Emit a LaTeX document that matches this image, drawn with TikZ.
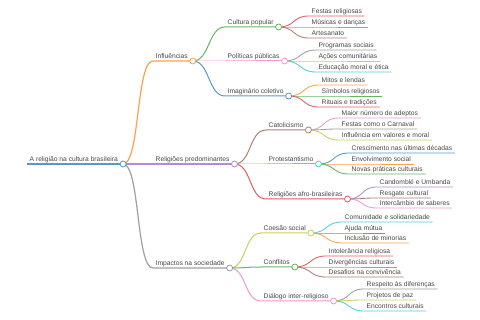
\documentclass[tikz,border=0pt]{standalone}
\usepackage{fontspec}
\setmainfont{Liberation Sans}
\definecolor{mblue}{RGB}{31,119,180}
\definecolor{morange}{RGB}{255,127,14}
\definecolor{mgreen}{RGB}{44,160,44}
\definecolor{mred}{RGB}{214,39,40}
\definecolor{mpurple}{RGB}{148,103,189}
\definecolor{mbrown}{RGB}{140,86,75}
\definecolor{mpink}{RGB}{227,119,194}
\definecolor{mgray}{RGB}{127,127,127}
\definecolor{molive}{RGB}{188,189,34}
\definecolor{mcyan}{RGB}{23,190,207}
\usetikzlibrary{positioning,backgrounds}

\begin{document}
\begin{tikzpicture}[x=1pt,y=-1pt,
  lbl/.style={anchor=south west, inner xsep=2.5pt, inner ysep=0.6pt,
    text height=5pt, text depth=1.6pt,
    font=\fontsize{6.7}{8}\selectfont, text=black!72},
  dot/.style={circle, fill=white, inner sep=0pt, minimum size=6pt, line width=0.8pt},
  lv0/.style={line width=1.5pt},
  lv1/.style={line width=1.2pt},
  lv2/.style={line width=1pt},
  lv3/.style={line width=0.85pt}]
  \useasboundingbox (0,0) rectangle (480,320);

  % Racine
  \node[lbl] (rel) at (27,164) {A religião na cultura brasileira};
  \node[dot, draw=mblue!75, right=-1pt of rel.south east] (relc) {};

  % Niveau 1
  \node[lbl] (infl) at (153,61) {Influências};
  \node[dot, draw=morange!75, right=-1pt of infl.south east] (inflc) {};
  \node[lbl] (relig) at (153,164) {Religiões predominantes};
  \node[dot, draw=mpurple!75, right=-1pt of relig.south east] (religc) {};
  \node[lbl] (impac) at (153,268) {Impactos na sociedade};
  \node[dot, draw=mgray!75, right=-1pt of impac.south east] (impacc) {};

  % Niveau 2
  \node[lbl] (cultpop) at (225,27) {Cultura popular};
  \node[dot, draw=mgreen!75, right=-1pt of cultpop.south east] (cultpopc) {};
  \node[lbl] (polit) at (225,61) {Políticas públicas};
  \node[dot, draw=mpink!75, right=-1pt of polit.south east] (politc) {};
  \node[lbl] (imag) at (225,96) {Imaginário coletivo};
  \node[dot, draw=mblue!75, right=-1pt of imag.south east] (imagc) {};
  \node[lbl] (catol) at (266,130) {Catolicismo};
  \node[dot, draw=mbrown!75, right=-1pt of catol.south east] (catolc) {};
  \node[lbl] (protest) at (266,164) {Protestantismo};
  \node[dot, draw=mcyan!75, right=-1pt of protest.south east] (protestc) {};
  \node[lbl] (afro) at (266,199) {Religiões afro-brasileiras};
  \node[dot, draw=mred!75, right=-1pt of afro.south east] (afroc) {};
  \node[lbl] (coesao) at (261,233) {Coesão social};
  \node[dot, draw=molive!75, right=-1pt of coesao.south east] (coesaoc) {};
  \node[lbl] (confl) at (261,267) {Conflitos};
  \node[dot, draw=mgreen!75, right=-1pt of confl.south east] (conflc) {};
  \node[lbl] (dialog) at (261,301) {Diálogo inter-religioso};
  \node[dot, draw=mpink!75, right=-1pt of dialog.south east] (dialogc) {};

  % Feuilles
  \node[lbl] (festas) at (309,16) {Festas religiosas};
  \node[lbl] (musicas) at (309,27) {Músicas e danças};
  \node[lbl] (artes) at (309,38) {Artesanato};
  \node[lbl] (progr) at (316,50) {Programas sociais};
  \node[lbl] (acoes) at (316,61) {Ações comunitárias};
  \node[lbl] (educ) at (316,72) {Educação moral e ética};
  \node[lbl] (mitos) at (319,85) {Mitos e lendas};
  \node[lbl] (simb) at (319,96) {Símbolos religiosos};
  \node[lbl] (ritu) at (319,107) {Rituais e tradições};
  \node[lbl] (maior) at (339,118) {Maior número de adeptos};
  \node[lbl] (carnaval) at (339,129) {Festas como o Carnaval};
  \node[lbl] (valores) at (339,140) {Influência em valores e moral};
  \node[lbl] (cresc) at (349,153) {Crescimento nas últimas décadas};
  \node[lbl] (envolv) at (349,164) {Envolvimento social};
  \node[lbl] (novas) at (349,174) {Novas práticas culturais};
  \node[lbl] (candom) at (377,187) {Candomblé e Umbanda};
  \node[lbl] (resgate) at (377,198) {Resgate cultural};
  \node[lbl] (interc) at (377,208) {Intercâmbio de saberes};
  \node[lbl] (comun) at (342,222) {Comunidade e solidariedade};
  \node[lbl] (ajuda) at (342,233) {Ajuda mútua};
  \node[lbl] (inclus) at (342,243) {Inclusão de minorias};
  \node[lbl] (intol) at (326,256) {Intolerância religiosa};
  \node[lbl] (diverg) at (326,267) {Divergências culturais};
  \node[lbl] (desaf) at (326,277) {Desafios na convivência};
  \node[lbl] (respeito) at (364,289) {Respeito às diferenças};
  \node[lbl] (paz) at (364,300) {Projetos de paz};
  \node[lbl] (encontros) at (364,311) {Encontros culturais};

  \begin{scope}[on background layer]
    % Racine
    \draw[lv0, mblue!75] (rel.south west) -- (relc.center);
    % Niveau 1
    \draw[lv1, morange!75] (relc.center) .. controls +(17,0) and +(-17,0) .. (infl.south west) -- (inflc.center);
    \draw[lv1, mpurple!75] (relc.center) .. controls +(17,0) and +(-17,0) .. (relig.south west) -- (religc.center);
    \draw[lv1, mgray!75] (relc.center) .. controls +(17,0) and +(-17,0) .. (impac.south west) -- (impacc.center);
    % Niveau 2
    \draw[lv2, mgreen!75] (inflc.center) .. controls +(17,0) and +(-17,0) .. (cultpop.south west) -- (cultpopc.center);
    \draw[lv2, mpink!75] (inflc.center) .. controls +(17,0) and +(-17,0) .. (polit.south west) -- (politc.center);
    \draw[lv2, mblue!75] (inflc.center) .. controls +(17,0) and +(-17,0) .. (imag.south west) -- (imagc.center);
    \draw[lv2, mbrown!75] (religc.center) .. controls +(17,0) and +(-17,0) .. (catol.south west) -- (catolc.center);
    \draw[lv2, mcyan!75] (religc.center) .. controls +(17,0) and +(-17,0) .. (protest.south west) -- (protestc.center);
    \draw[lv2, mred!75] (religc.center) .. controls +(17,0) and +(-17,0) .. (afro.south west) -- (afroc.center);
    \draw[lv2, molive!75] (impacc.center) .. controls +(17,0) and +(-17,0) .. (coesao.south west) -- (coesaoc.center);
    \draw[lv2, mgreen!75] (impacc.center) .. controls +(17,0) and +(-17,0) .. (confl.south west) -- (conflc.center);
    \draw[lv2, mpink!75] (impacc.center) .. controls +(17,0) and +(-17,0) .. (dialog.south west) -- (dialogc.center);
    % Feuilles
    \draw[lv3, mred!75] (cultpopc.center) .. controls +(17,0) and +(-17,0) .. (festas.south west) -- (festas.south east);
    \draw[lv3, mpurple!75] (cultpopc.center) .. controls +(17,0) and +(-17,0) .. (musicas.south west) -- (musicas.south east);
    \draw[lv3, mbrown!75] (cultpopc.center) .. controls +(17,0) and +(-17,0) .. (artes.south west) -- (artes.south east);
    \draw[lv3, mgray!75] (politc.center) .. controls +(17,0) and +(-17,0) .. (progr.south west) -- (progr.south east);
    \draw[lv3, molive!75] (politc.center) .. controls +(17,0) and +(-17,0) .. (acoes.south west) -- (acoes.south east);
    \draw[lv3, mcyan!75] (politc.center) .. controls +(17,0) and +(-17,0) .. (educ.south west) -- (educ.south east);
    \draw[lv3, morange!75] (imagc.center) .. controls +(17,0) and +(-17,0) .. (mitos.south west) -- (mitos.south east);
    \draw[lv3, mgreen!75] (imagc.center) .. controls +(17,0) and +(-17,0) .. (simb.south west) -- (simb.south east);
    \draw[lv3, mred!75] (imagc.center) .. controls +(17,0) and +(-17,0) .. (ritu.south west) -- (ritu.south east);
    \draw[lv3, mpink!75] (catolc.center) .. controls +(17,0) and +(-17,0) .. (maior.south west) -- (maior.south east);
    \draw[lv3, mgray!75] (catolc.center) .. controls +(17,0) and +(-17,0) .. (carnaval.south west) -- (carnaval.south east);
    \draw[lv3, molive!75] (catolc.center) .. controls +(17,0) and +(-17,0) .. (valores.south west) -- (valores.south east);
    \draw[lv3, mblue!75] (protestc.center) .. controls +(17,0) and +(-17,0) .. (cresc.south west) -- (cresc.south east);
    \draw[lv3, morange!75] (protestc.center) .. controls +(17,0) and +(-17,0) .. (envolv.south west) -- (envolv.south east);
    \draw[lv3, mgreen!75] (protestc.center) .. controls +(17,0) and +(-17,0) .. (novas.south west) -- (novas.south east);
    \draw[lv3, mpurple!75] (afroc.center) .. controls +(17,0) and +(-17,0) .. (candom.south west) -- (candom.south east);
    \draw[lv3, mbrown!75] (afroc.center) .. controls +(17,0) and +(-17,0) .. (resgate.south west) -- (resgate.south east);
    \draw[lv3, mpink!75] (afroc.center) .. controls +(17,0) and +(-17,0) .. (interc.south west) -- (interc.south east);
    \draw[lv3, mcyan!75] (coesaoc.center) .. controls +(17,0) and +(-17,0) .. (comun.south west) -- (comun.south east);
    \draw[lv3, mblue!75] (coesaoc.center) .. controls +(17,0) and +(-17,0) .. (ajuda.south west) -- (ajuda.south east);
    \draw[lv3, morange!75] (coesaoc.center) .. controls +(17,0) and +(-17,0) .. (inclus.south west) -- (inclus.south east);
    \draw[lv3, mred!75] (conflc.center) .. controls +(17,0) and +(-17,0) .. (intol.south west) -- (intol.south east);
    \draw[lv3, mpurple!75] (conflc.center) .. controls +(17,0) and +(-17,0) .. (diverg.south west) -- (diverg.south east);
    \draw[lv3, mbrown!75] (conflc.center) .. controls +(17,0) and +(-17,0) .. (desaf.south west) -- (desaf.south east);
    \draw[lv3, mgray!75] (dialogc.center) .. controls +(17,0) and +(-17,0) .. (respeito.south west) -- (respeito.south east);
    \draw[lv3, molive!75] (dialogc.center) .. controls +(17,0) and +(-17,0) .. (paz.south west) -- (paz.south east);
    \draw[lv3, mcyan!75] (dialogc.center) .. controls +(17,0) and +(-17,0) .. (encontros.south west) -- (encontros.south east);
  \end{scope}
\end{tikzpicture}
\end{document}
